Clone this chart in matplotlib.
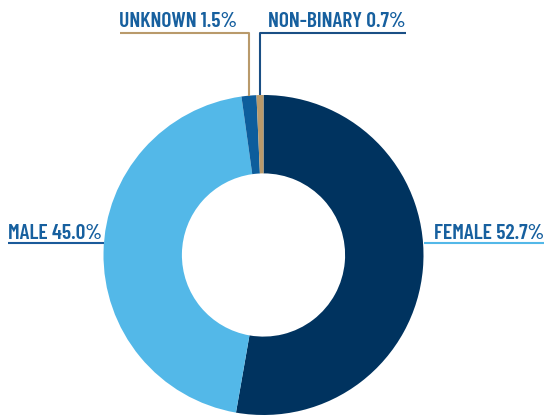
import numpy as np
import matplotlib.pyplot as plt

# ====== Data ======
labels = ["FEMALE", "MALE", "UNKNOWN", "NON-BINARY"]
values = [52.7, 45.0, 1.5, 0.7]
slice_colors = ["#00335f", "#53b8e8", "#0d5d9c", "#b99a6b"]
text_color = "#17609f"

W, H = 546, 418
cx, cy, R = 263.5, H - 255, 160
hole = 0.51

fig = plt.figure(figsize=(W / 100, H / 100), dpi=100)
ax = fig.add_axes([0, 0, 1, 1])

wedges, _ = ax.pie(
    values, colors=slice_colors, startangle=90, counterclock=False,
    center=(cx, cy), radius=R, wedgeprops=dict(width=R * (1 - hole), linewidth=0),
)
ax.set_xlim(0, W)
ax.set_ylim(0, H)
ax.set_aspect("equal")
ax.axis("off")

font = dict(family=["Barlow Condensed", "DejaVu Sans"], fontweight=600,
            fontsize=15.5, color=text_color)


def wedge_x(w):
    mid = np.deg2rad((w.theta1 + w.theta2) / 2)
    return cx + R * np.cos(mid), cy + R * np.sin(mid)


def label(i):
    return f"{labels[i]} {values[i]:.1f}%"


# top labels with elbow leader lines
y_line = H - 32.5
ux, uy = wedge_x(wedges[2])
ax.plot([120, ux, ux], [y_line, y_line, uy], color="#b99a6b", lw=1.5, solid_capstyle="butt")
ax.text(119, H - 27, label(2), ha="left", va="baseline", **font)

nx, ny = wedge_x(wedges[3])
ax.plot([nx, nx, 406], [ny, y_line, y_line], color="#1a4f85", lw=1.5, solid_capstyle="butt")
ax.text(268, H - 27, label(3), ha="left", va="baseline", **font)

# side labels with underlines
y_side = H - 243
ax.plot([8, cx - R], [y_side, y_side], color="#1a5a9a", lw=1.5, solid_capstyle="butt")
ax.text(8, H - 239, label(1), ha="left", va="baseline", **font)

ax.plot([cx + R, 544], [y_side, y_side], color="#53b8e8", lw=1.5, solid_capstyle="butt")
ax.text(544, H - 239, label(0), ha="right", va="baseline", **font)

fig.savefig("out.png", dpi=100)
